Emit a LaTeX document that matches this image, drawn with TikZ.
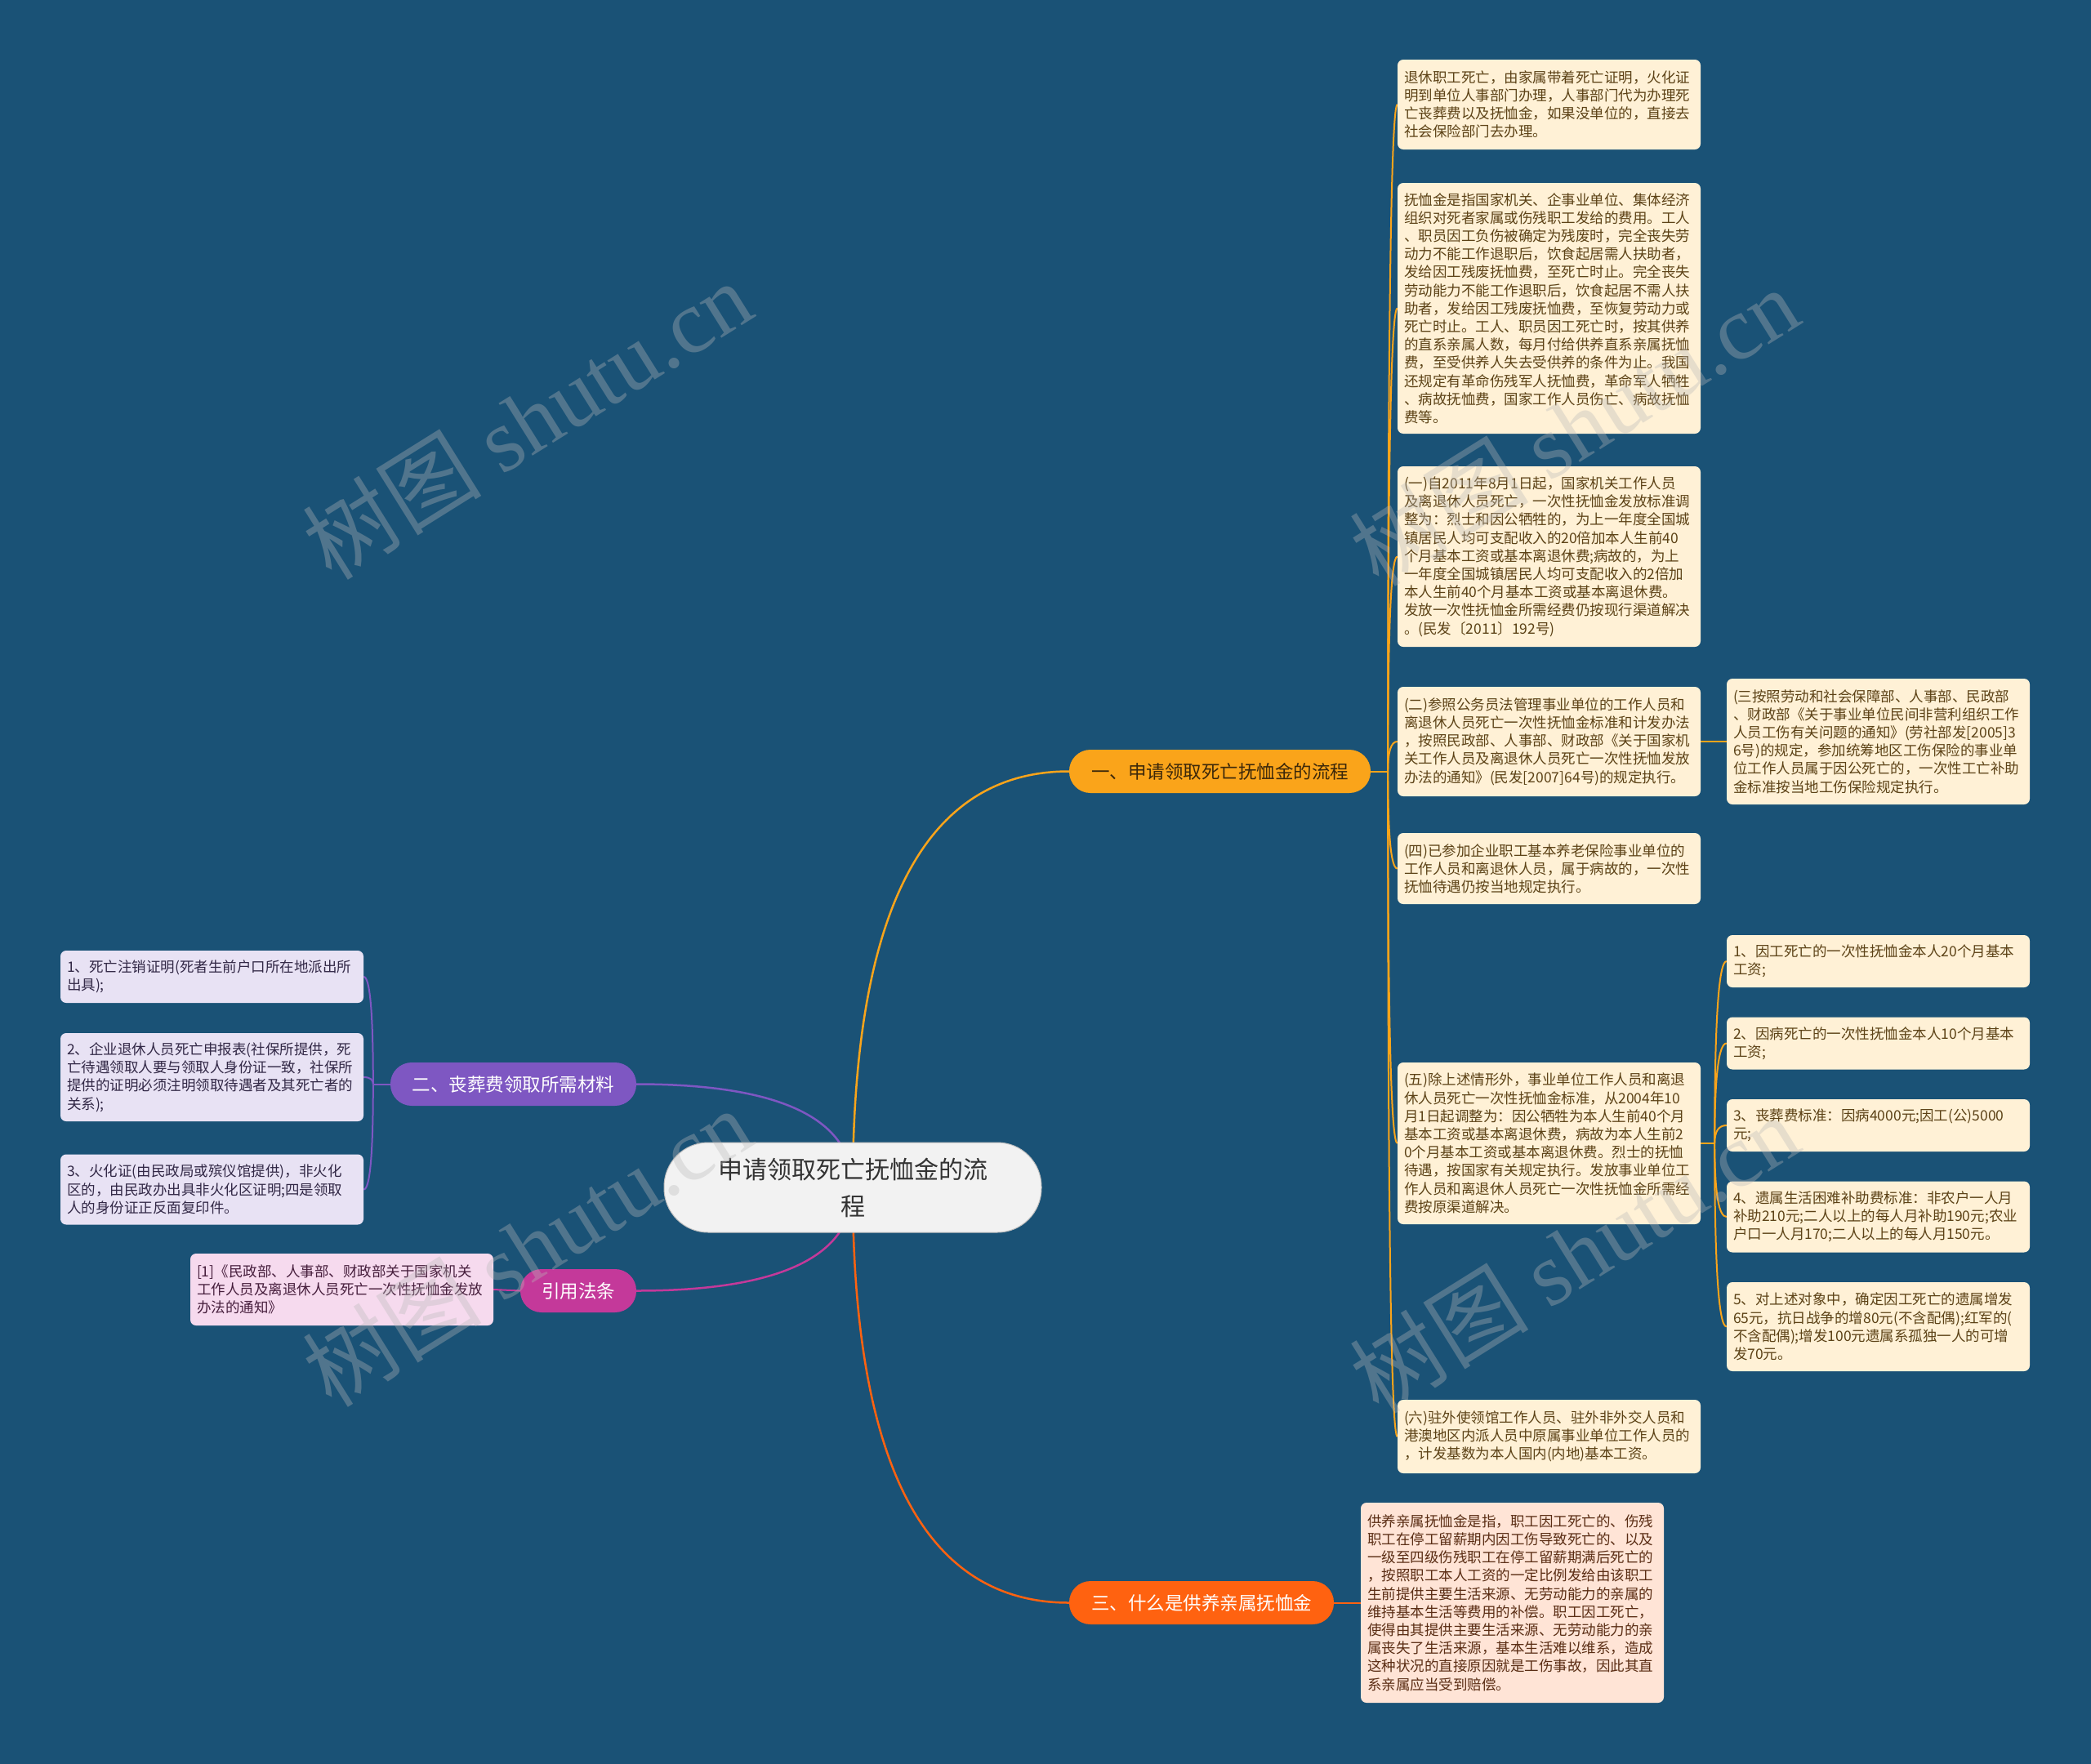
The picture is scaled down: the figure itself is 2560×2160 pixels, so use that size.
\documentclass[tikz,border=0pt]{standalone}
\usepackage{fontspec}
\setmainfont{Noto Sans CJK SC}
\newfontfamily\wmserif{Liberation Serif}
\usetikzlibrary{calc,backgrounds}
\pgfdeclarelayer{fg}
\pgfsetlayers{background,main,fg}
\definecolor{bg}{RGB}{26,82,118}
\definecolor{corange}{RGB}{250,164,26}
\definecolor{cpurple}{RGB}{126,87,194}
\definecolor{cmagenta}{RGB}{196,57,154}
\definecolor{cred}{RGB}{255,98,16}
\definecolor{fcream}{RGB}{255,241,214}
\definecolor{tbrown}{RGB}{92,66,22}
\definecolor{flav}{RGB}{232,226,244}
\definecolor{tlav}{RGB}{50,40,70}
\definecolor{fpink}{RGB}{246,218,238}
\definecolor{tpink}{RGB}{70,30,60}
\definecolor{fpeach}{RGB}{255,228,214}
\definecolor{tpeach}{RGB}{90,45,20}
\definecolor{fcenter}{RGB}{242,242,242}
\definecolor{bdark}{RGB}{60,40,10}
\newcommand\mmcurve[3]{\draw[#1] (#2) .. controls ($(#2)!0.6667!(#2|-#3)$) and ($(#3)!0.6667!(#2|-#3)$) .. (#3);}
\tikzset{
  leaf/.style={rectangle, rounded corners=7pt, inner xsep=8pt, inner ysep=0pt,
    text width=355pt, align=left, font=\fontsize{17.5}{22.2}\selectfont},
  rleaf/.style={leaf, fill=fcream, text=tbrown},
  lleaf/.style={leaf, fill=flav, text=tlav},
  branch/.style={rectangle, rounded corners=26pt, minimum height=53pt, inner sep=0pt,
    font=\fontsize{22.5}{27}\selectfont},
  centre/.style={rectangle, rounded corners=54pt, minimum width=462pt, minimum height=110pt,
    fill=fcenter, draw=black!25, line width=1pt, align=center, text=black!80,
    font=\fontsize{30}{45}\selectfont},
  mainlink/.style={line width=2.5pt},
  sublink/.style={line width=2pt},
  wm/.style={rotate=32, text=gray!55, opacity=0.35, font=\fontsize{110}{120}\selectfont}
}
\begin{document}
\begin{tikzpicture}[x=1pt,y=-1pt]
\begin{pgfonlayer}{background}
\fill[bg] (0,0) rectangle (2560,2160);
\end{pgfonlayer}
\useasboundingbox (0,0) rectangle (2560,2160);

% centre
\node[centre] (c) at (1044,1454) {申请领取死亡抚恤金的流\\程};

% branches
\node[branch, fill=corange, text=bdark, minimum width=369pt] (b1) at (1493.5,944.5) {一、申请领取死亡抚恤金的流程};
\node[branch, fill=cpurple, text=white, minimum width=301pt] (b2) at (628.5,1327.5) {二、丧葬费领取所需材料};
\node[branch, fill=cmagenta, text=white, minimum width=142pt] (b3) at (708,1580.5) {引用法条};
\node[branch, fill=cred, text=white, minimum width=324pt] (b4) at (1471,1962.5) {三、什么是供养亲属抚恤金};

% right column
\node[rleaf, minimum height=110pt] (r1) at (1896.5,128) {退休职工死亡，由家属带着死亡证明，火化证\\明到单位人事部门办理，人事部门代为办理死\\亡丧葬费以及抚恤金，如果没单位的，直接去\\社会保险部门去办理。};
\node[rleaf, minimum height=307pt] (r2) at (1896.5,377.5) {抚恤金是指国家机关、企事业单位、集体经济\\组织对死者家属或伤残职工发给的费用。工人\\、职员因工负伤被确定为残废时，完全丧失劳\\动力不能工作退职后，饮食起居需人扶助者，\\发给因工残废抚恤费，至死亡时止。完全丧失\\劳动能力不能工作退职后，饮食起居不需人扶\\助者，发给因工残废抚恤费，至恢复劳动力或\\死亡时止。工人、职员因工死亡时，按其供养\\的直系亲属人数，每月付给供养直系亲属抚恤\\费，至受供养人失去受供养的条件为止。我国\\还规定有革命伤残军人抚恤费，革命军人牺牲\\、病故抚恤费，国家工作人员伤亡、病故抚恤\\费等。};
\node[rleaf, minimum height=221pt] (r3) at (1896.5,681.5) {(一)自2011年8月1日起，国家机关工作人员\\及离退休人员死亡，一次性抚恤金发放标准调\\整为：烈士和因公牺牲的，为上一年度全国城\\镇居民人均可支配收入的20倍加本人生前40\\个月基本工资或基本离退休费;病故的，为上\\一年度全国城镇居民人均可支配收入的2倍加\\本人生前40个月基本工资或基本离退休费。\\发放一次性抚恤金所需经费仍按现行渠道解决\\。(民发〔2011〕192号)};
\node[rleaf, minimum height=134pt] (r4) at (1896.5,908) {(二)参照公务员法管理事业单位的工作人员和\\离退休人员死亡一次性抚恤金标准和计发办法\\，按照民政部、人事部、财政部《关于国家机\\关工作人员及离退休人员死亡一次性抚恤发放\\办法的通知》(民发[2007]64号)的规定执行。};
\node[rleaf, minimum height=154pt] (r4a) at (2299.5,908) {(三按照劳动和社会保障部、人事部、民政部\\、财政部《关于事业单位民间非营利组织工作\\人员工伤有关问题的通知》(劳社部发[2005]3\\6号)的规定，参加统筹地区工伤保险的事业单\\位工作人员属于因公死亡的，一次性工亡补助\\金标准按当地工伤保险规定执行。};
\node[rleaf, minimum height=87pt] (r5) at (1896.5,1063.5) {(四)已参加企业职工基本养老保险事业单位的\\工作人员和离退休人员，属于病故的，一次性\\抚恤待遇仍按当地规定执行。};
\node[rleaf, minimum height=198pt] (r6) at (1896.5,1400) {(五)除上述情形外，事业单位工作人员和离退\\休人员死亡一次性抚恤金标准，从2004年10\\月1日起调整为：因公牺牲为本人生前40个月\\基本工资或基本离退休费，病故为本人生前2\\0个月基本工资或基本离退休费。烈士的抚恤\\待遇，按国家有关规定执行。发放事业单位工\\作人员和离退休人员死亡一次性抚恤金所需经\\费按原渠道解决。};
\node[rleaf, minimum height=90pt] (r7) at (1896.5,1759) {(六)驻外使领馆工作人员、驻外非外交人员和\\港澳地区内派人员中原属事业单位工作人员的\\，计发基数为本人国内(内地)基本工资。};

% children of (五)
\node[rleaf, minimum height=64pt] (s1) at (2299.5,1177) {1、因工死亡的一次性抚恤金本人20个月基本\\工资;};
\node[rleaf, minimum height=64pt] (s2) at (2299.5,1277.5) {2、因病死亡的一次性抚恤金本人10个月基本\\工资;};
\node[rleaf, minimum height=64pt] (s3) at (2299.5,1378) {3、丧葬费标准：因病4000元;因工(公)5000\\元;};
\node[rleaf, minimum height=87pt] (s4) at (2299.5,1490) {4、遗属生活困难补助费标准：非农户一人月\\补助210元;二人以上的每人月补助190元;农业\\户口一人月170;二人以上的每人月150元。};
\node[rleaf, minimum height=109pt] (s5) at (2299.5,1624.5) {5、对上述对象中，确定因工死亡的遗属增发\\65元，抗日战争的增80元(不含配偶);红军的(\\不含配偶);增发100元遗属系孤独一人的可增\\发70元。};

% 三 child
\node[leaf, fill=fpeach, text=tpeach, minimum height=245pt] (t1) at (1851.5,1962.5) {供养亲属抚恤金是指，职工因工死亡的、伤残\\职工在停工留薪期内因工伤导致死亡的、以及\\一级至四级伤残职工在停工留薪期满后死亡的\\，按照职工本人工资的一定比例发给由该职工\\生前提供主要生活来源、无劳动能力的亲属的\\维持基本生活等费用的补偿。职工因工死亡，\\使得由其提供主要生活来源、无劳动能力的亲\\属丧失了生活来源，基本生活难以维系，造成\\这种状况的直接原因就是工伤事故，因此其直\\系亲属应当受到赔偿。};

% left column
\node[lleaf, minimum height=64pt] (l1) at (259.5,1196) {1、死亡注销证明(死者生前户口所在地派出所\\出具);};
\node[lleaf, minimum height=108pt] (l2) at (259.5,1319) {2、企业退休人员死亡申报表(社保所提供，死\\亡待遇领取人要与领取人身份证一致，社保所\\提供的证明必须注明领取待遇者及其死亡者的\\关系);};
\node[lleaf, minimum height=86pt] (l3) at (259.5,1456.5) {3、火化证(由民政局或殡仪馆提供)，非火化\\区的，由民政办出具非火化区证明;四是领取\\人的身份证正反面复印件。};
\node[leaf, fill=fpink, text=tpink, minimum height=88pt] (q1) at (418.5,1579) {[1]《民政部、人事部、财政部关于国家机关\\工作人员及离退休人员死亡一次性抚恤金发放\\办法的通知》};

% connectors
\coordinate (k1) at ($(b1.east)+(21,0)$);
\coordinate (k2) at ($(b2.west)+(-21,0)$);
\coordinate (k6) at ($(r6.east)+(17,0)$);
\begin{pgfonlayer}{background}
\mmcurve{mainlink,corange}{c.center}{b1.west}
\mmcurve{mainlink,cpurple}{c.center}{b2.east}
\mmcurve{mainlink,cmagenta}{c.center}{b3.east}
\mmcurve{mainlink,cred}{c.center}{b4.west}
\draw[sublink,corange] (b1.east) -- (k1);
\foreach \n in {r1,r2,r3,r4,r5,r6,r7}{\mmcurve{sublink,corange}{k1}{\n.west}}
\draw[sublink,corange] (r4.east) -- (r4a.west);
\draw[sublink,corange] (r6.east) -- (k6);
\foreach \n in {s1,s2,s3,s4,s5}{\mmcurve{sublink,corange}{k6}{\n.west}}
\draw[sublink,cpurple] (b2.west) -- (k2);
\foreach \n in {l1,l2,l3}{\mmcurve{sublink,cpurple}{k2}{\n.east}}
\draw[sublink,cmagenta] (b3.west) -- (q1.east);
\draw[sublink,cred] (b4.east) -- (t1.west);
\end{pgfonlayer}

% watermarks
\begin{pgfonlayer}{fg}
\node[wm] (w1) at (645,514) {树图 {\wmserif shutu.cn}};
\node[wm] (w2) at (1927,522) {树图 {\wmserif shutu.cn}};
\node[wm] (w3) at (645,1527) {树图 {\wmserif shutu.cn}};
\node[wm] (w4) at (1927,1535) {树图 {\wmserif shutu.cn}};
\end{pgfonlayer}
\end{tikzpicture}
\end{document}
